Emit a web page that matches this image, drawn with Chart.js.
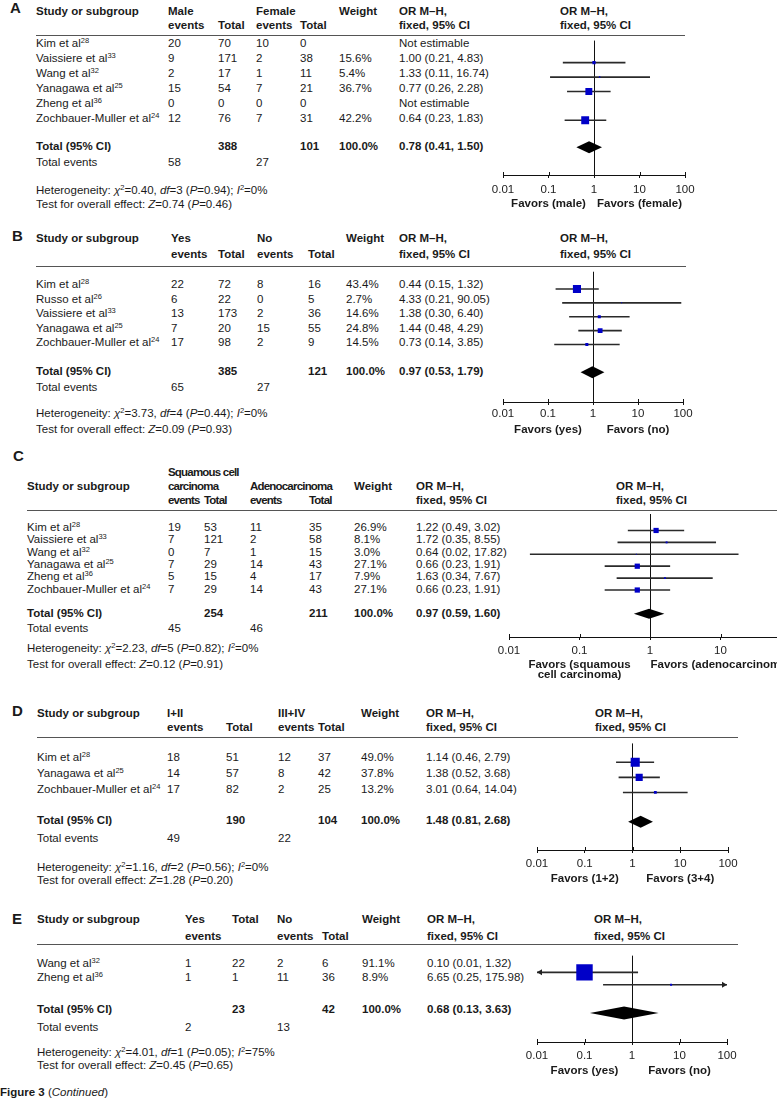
<!DOCTYPE html>
<html>
<head>
<meta charset="utf-8">
<script src="https://cdn.jsdelivr.net/npm/chart.js@4.4.1/dist/chart.umd.min.js"></script>
<style>
html, body { margin: 0; padding: 0; background: #fff; overflow: hidden; }
#page { position: relative; width: 777px; height: 1105px; overflow: hidden;
  font-family: "Liberation Sans", Arial, sans-serif; font-size: 11.5px; color: #1a1a1a; }
.t { position: absolute; white-space: nowrap; line-height: 14px; }
.b { font-weight: bold; }
.tight { letter-spacing: -0.8px; }
.letter { font-size: 15px; }
.rule { position: absolute; height: 0; border-top: 1px solid #555; }
sup { font-size: 7.5px; vertical-align: baseline; position: relative; top: -4px; line-height: 0; }
canvas { position: absolute; }
</style>
</head>
<body>
<div id="page"></div>
<script>
const xTicks = [0.01, 0.1, 1, 10, 100];
const xTickLabels = ['0.01', '0.1', '1', '10', '100'];

// A: male vs female
const studiesA = ['Kim et al', 'Vaissiere et al', 'Wang et al', 'Yanagawa et al', 'Zheng et al', 'Zochbauer-Muller et al'];
const refsA = [28, 33, 32, 25, 36, 24];
const events1A = [20, 9, 2, 15, 0, 12];
const totals1A = [70, 171, 17, 54, 0, 76];
const events2A = [10, 2, 1, 7, 0, 7];
const totals2A = [0, 38, 11, 21, 0, 31];
const weightsA = [null, 15.6, 5.4, 36.7, null, 42.2];
const orA = [null, 1.00, 1.33, 0.77, null, 0.64];
const loA = [null, 0.21, 0.11, 0.26, null, 0.23];
const hiA = [null, 4.83, 16.74, 2.28, null, 1.83];
const pooledA = [0.78, 0.41, 1.50];
const sumsA = [58, 388, 27, 101];
const hetA = ['0.40', '3', '0.94', '0'];
const effectA = ['0.74', '0.46'];
const favorsA = ['Favors (male)', 'Favors (female)'];
const head1A = ['Study or subgroup', 'Male', '', 'Female', '', 'Weight'];
const head2A = ['', 'events', 'Total', 'events', 'Total', ''];

// B: yes vs no
const studiesB = ['Kim et al', 'Russo et al', 'Vaissiere et al', 'Yanagawa et al', 'Zochbauer-Muller et al'];
const refsB = [28, 26, 33, 25, 24];
const events1B = [22, 6, 13, 7, 17];
const totals1B = [72, 22, 173, 20, 98];
const events2B = [8, 0, 2, 15, 2];
const totals2B = [16, 5, 36, 55, 9];
const weightsB = [43.4, 2.7, 14.6, 24.8, 14.5];
const orB = [0.44, 4.33, 1.38, 1.44, 0.73];
const loB = [0.15, 0.21, 0.30, 0.48, 0.14];
const hiB = [1.32, 90.05, 6.40, 4.29, 3.85];
const pooledB = [0.97, 0.53, 1.79];
const sumsB = [65, 385, 27, 121];
const hetB = ['3.73', '4', '0.44', '0'];
const effectB = ['0.09', '0.93'];
const favorsB = ['Favors (yes)', 'Favors (no)'];
const head1B = ['Study or subgroup', 'Yes', '', 'No', '', 'Weight'];
const head2B = ['', 'events', 'Total', 'events', 'Total', ''];

// C: squamous cell carcinoma vs adenocarcinoma
const studiesC = ['Kim et al', 'Vaissiere et al', 'Wang et al', 'Yanagawa et al', 'Zheng et al', 'Zochbauer-Muller et al'];
const refsC = [28, 33, 32, 25, 36, 24];
const events1C = [19, 7, 0, 7, 5, 7];
const totals1C = [53, 121, 7, 29, 15, 29];
const events2C = [11, 2, 1, 14, 4, 14];
const totals2C = [35, 58, 15, 43, 17, 43];
const weightsC = [26.9, 8.1, 3.0, 27.1, 7.9, 27.1];
const orC = [1.22, 1.72, 0.64, 0.66, 1.63, 0.66];
const loC = [0.49, 0.35, 0.02, 0.23, 0.34, 0.23];
const hiC = [3.02, 8.55, 17.82, 1.91, 7.67, 1.91];
const pooledC = [0.97, 0.59, 1.60];
const sumsC = [45, 254, 46, 211];
const hetC = ['2.23', '5', '0.82', '0'];
const effectC = ['0.12', '0.91'];
const favorsC = ['Favors (squamous<br>cell carcinoma)', 'Favors (adenocarcinoma)'];
const head0C = ['', 'Squamous cell', '', '', '', ''];
const head1C = ['Study or subgroup', 'carcinoma', '', 'Adenocarcinoma', '', 'Weight'];
const head2C = ['', 'events', 'Total', 'events', 'Total', ''];

// D: stage I+II vs III+IV
const studiesD = ['Kim et al', 'Yanagawa et al', 'Zochbauer-Muller et al'];
const refsD = [28, 25, 24];
const events1D = [18, 14, 17];
const totals1D = [51, 57, 82];
const events2D = [12, 8, 2];
const totals2D = [37, 42, 25];
const weightsD = [49.0, 37.8, 13.2];
const orD = [1.14, 1.38, 3.01];
const loD = [0.46, 0.52, 0.64];
const hiD = [2.79, 3.68, 14.04];
const pooledD = [1.48, 0.81, 2.68];
const sumsD = [49, 190, 22, 104];
const hetD = ['1.16', '2', '0.56', '0'];
const effectD = ['1.28', '0.20'];
const favorsD = ['Favors (1+2)', 'Favors (3+4)'];
const head1D = ['Study or subgroup', 'I+II', '', 'III+IV', '', 'Weight'];
const head2D = ['', 'events', 'Total', 'events', 'Total', ''];

// E: yes vs no
const studiesE = ['Wang et al', 'Zheng et al'];
const refsE = [32, 36];
const events1E = [1, 1];
const totals1E = [22, 1];
const events2E = [2, 11];
const totals2E = [6, 36];
const weightsE = [91.1, 8.9];
const orE = [0.10, 6.65];
const loE = [0.01, 0.25];
const hiE = [1.32, 175.98];
const pooledE = [0.68, 0.13, 3.63];
const sumsE = [2, 23, 13, 42];
const hetE = ['4.01', '1', '0.05', '75'];
const effectE = ['0.45', '0.65'];
const favorsE = ['Favors (yes)', 'Favors (no)'];
const head1E = ['Study or subgroup', 'Yes', 'Total', 'No', '', 'Weight'];
const head2E = ['', 'events', '', 'events', 'Total', ''];

const panels = [
  { letter: 'A', studies: studiesA, refs: refsA, ev1: events1A, tot1: totals1A, ev2: events2A, tot2: totals2A,
    weights: weightsA, or: orA, lo: loA, hi: hiA, pooled: pooledA, sums: sumsA, het: hetA, effect: effectA,
    favors: favorsA, heads: [head1A, head2A],
    lay: { letter: [10, 8], heads: [11, 25], ruleY: 35, ruleX: [36, 685], rowY: 43, step: 15, totalY: 146, eventsY: 162,
      hetY: 190, testY: 204, axisY: 175, favY: 203, tickPad: 5, cols: [36, 168, 218, 256, 300, 339, 399], headX: 560,
      axisL: 503, axisR: 685, dia: 6 } },
  { letter: 'B', studies: studiesB, refs: refsB, ev1: events1B, tot1: totals1B, ev2: events2B, tot2: totals2B,
    weights: weightsB, or: orB, lo: loB, hi: hiB, pooled: pooledB, sums: sumsB, het: hetB, effect: effectB,
    favors: favorsB, heads: [head1B, head2B],
    lay: { letter: [12, 236], heads: [238, 254], ruleY: 266, ruleX: [36, 686], rowY: 284, step: 14.5, totalY: 371, eventsY: 387,
      hetY: 413, testY: 429, axisY: 402, favY: 429, tickPad: 2, cols: [36, 171, 218, 257, 308, 346, 399], headX: 560,
      axisL: 503, axisR: 683, dia: 6 } },
  { letter: 'C', studies: studiesC, refs: refsC, ev1: events1C, tot1: totals1C, ev2: events2C, tot2: totals2C,
    weights: weightsC, or: orC, lo: loC, hi: hiC, pooled: pooledC, sums: sumsC, het: hetC, effect: effectC,
    favors: favorsC, heads: [head0C, head1C, head2C], tightHead: true,
    lay: { letter: [13, 456], heads: [472, 486, 500], ruleY: 510, ruleX: [27, 777], rowY: 527, step: 12.3, totalY: 613, eventsY: 628,
      hetY: 648, testY: 664, axisY: 637, favY: 664, tickPad: 4, cols: [27, 168, 204, 250, 309, 354, 416], headX: 616,
      axisL: 509, axisR: 791, dia: 5 } },
  { letter: 'D', studies: studiesD, refs: refsD, ev1: events1D, tot1: totals1D, ev2: events2D, tot2: totals2D,
    weights: weightsD, or: orD, lo: loD, hi: hiD, pooled: pooledD, sums: sumsD, het: hetD, effect: effectD,
    favors: favorsD, heads: [head1D, head2D],
    lay: { letter: [12, 711], heads: [713, 727], ruleY: 737, ruleX: [37, 738], rowY: 757, step: 16, totalY: 820, eventsY: 838,
      hetY: 867, testY: 880, axisY: 850, favY: 878, tickPad: 4, cols: [37, 167, 226, 278, 318, 361, 426], headX: 595,
      axisL: 537, axisR: 728, dia: 6 } },
  { letter: 'E', studies: studiesE, refs: refsE, ev1: events1E, tot1: totals1E, ev2: events2E, tot2: totals2E,
    weights: weightsE, or: orE, lo: loE, hi: hiE, pooled: pooledE, sums: sumsE, het: hetE, effect: effectE,
    favors: favorsE, heads: [head1E, head2E],
    lay: { letter: [12, 919], heads: [919, 936], ruleY: 944, ruleX: [37, 738], rowY: 963, step: 14, totalY: 1009, eventsY: 1027,
      hetY: 1052, testY: 1065, axisY: 1042, favY: 1070, tickPad: 4, cols: [37, 185, 232, 277, 322, 362, 427], headX: 594,
      axisL: 537, axisR: 727, dia: 6.5 } }
];

const page = document.getElementById('page');

function put(html, x, y, cls, center) {
  const d = document.createElement('div');
  d.className = 't' + (cls ? ' ' + cls : '');
  d.innerHTML = html;
  d.style.left = x + 'px';
  d.style.top = (y - 7) + 'px';
  if (center) {
    d.style.transform = 'translateX(-50%)';
    d.style.textAlign = 'center';
    d.style.lineHeight = '10px';
    d.style.top = (y - 5) + 'px';
  }
  page.appendChild(d);
  return d;
}

const ciText = (o, l, h) => `${o.toFixed(2)} (${l.toFixed(2)}, ${h.toFixed(2)})`;

function arrow(ctx, px, py, dir) {
  ctx.beginPath();
  ctx.moveTo(px, py);
  ctx.lineTo(px + dir * 5, py - 3);
  ctx.lineTo(px + dir * 5, py + 3);
  ctx.closePath();
  ctx.fill();
}

// diamond, arrow heads and upper half of the tick marks
const extras = {
  id: 'extras',
  afterDatasetsDraw(chart, args, opts) {
    const { ctx, chartArea: a } = chart;
    const x = chart.scales.x, y = chart.scales.y;
    ctx.save();
    ctx.strokeStyle = '#111';
    ctx.lineWidth = 1;
    xTicks.forEach(v => {
      const px = Math.round(x.getPixelForValue(v)) + 0.5;
      ctx.beginPath();
      ctx.moveTo(px, a.bottom - 3);
      ctx.lineTo(px, a.bottom);
      ctx.stroke();
    });
    ctx.fillStyle = '#222';
    opts.lo.forEach((l, i) => {
      if (l == null) return;
      const py = y.getPixelForValue(i);
      if (l <= x.min) arrow(ctx, a.left, py, 1);
      if (opts.hi[i] >= x.max) arrow(ctx, a.right, py, -1);
    });
    const [o, l, h] = opts.pooled;
    const py = y.getPixelForValue(opts.totalIdx);
    ctx.fillStyle = '#000';
    ctx.beginPath();
    ctx.moveTo(x.getPixelForValue(l), py);
    ctx.lineTo(x.getPixelForValue(o), py - opts.dia);
    ctx.lineTo(x.getPixelForValue(h), py);
    ctx.lineTo(x.getPixelForValue(o), py + opts.dia);
    ctx.closePath();
    ctx.fill();
    ctx.restore();
  }
};

function buildChart(P) {
  const L = P.lay, pad = 24;
  const w = L.axisR - L.axisL + 2 * pad, h = L.axisY - L.ruleY + 30;
  const cv = document.createElement('canvas');
  cv.width = w; cv.height = h;
  cv.style.left = (L.axisL - pad) + 'px';
  cv.style.top = L.ruleY + 'px';
  cv.style.width = w + 'px';
  cv.style.height = h + 'px';
  page.appendChild(cv);

  const squares = [], bars = [], radii = [];
  P.studies.forEach((s, i) => {
    if (P.or[i] == null) return;
    squares.push({ x: P.or[i], y: i });
    radii.push((0.5 + 0.175 * P.weights[i]) / (2 * Math.SQRT1_2));
    bars.push({ x: [P.lo[i], P.hi[i]], y: i });
  });
  const totalIdx = (L.totalY - L.rowY) / L.step;
  const yMin = (L.ruleY - L.rowY) / L.step;
  const yMax = (L.axisY - L.rowY) / L.step;

  const chart = new Chart(cv, {
    type: 'scatter',
    data: {
      datasets: [
        { type: 'scatter', data: squares, pointStyle: 'rect', pointRadius: radii,
          backgroundColor: '#0000c8', borderWidth: 0, order: 0 },
        { type: 'bar', indexAxis: 'y', data: bars, backgroundColor: '#2a2a2a',
          barThickness: 1, borderWidth: 0, order: 1, clip: 0 }
      ]
    },
    options: {
      responsive: false,
      animation: false,
      devicePixelRatio: 1,
      events: [],
      layout: { padding: { left: pad, right: pad, top: 0, bottom: 0 } },
      plugins: {
        legend: { display: false },
        tooltip: { enabled: false },
        extras: { lo: P.lo, hi: P.hi, pooled: P.pooled, totalIdx: totalIdx, dia: L.dia }
      },
      scales: {
        x: {
          type: 'logarithmic', min: 0.01, max: 100, position: 'bottom', offset: false,
          afterBuildTicks: s => { s.ticks = xTicks.map(v => ({ value: v })); },
          afterFit: s => { s.height = 30; },
          ticks: {
            callback: (v, i) => xTickLabels[i],
            font: { family: 'Liberation Sans', size: 11.5 },
            color: '#222', padding: L.tickPad, maxRotation: 0, autoSkip: false
          },
          grid: {
            offset: false,
            color: c => (c.tick && c.tick.value === 1) ? '#111' : 'rgba(0,0,0,0)',
            tickColor: '#111', tickLength: 3, lineWidth: 1
          },
          border: { display: true, color: '#111', width: 1 }
        },
        y: {
          type: 'linear', display: false, reverse: true, bounds: 'data', offset: false,
          grid: { offset: false },
          min: yMin, max: yMax
        }
      }
    },
    plugins: [extras]
  });
  return { chart: chart, left: L.axisL - pad };
}

function buildPanel(P) {
  const L = P.lay, c = L.cols;
  put(P.letter, L.letter[0], L.letter[1], 'b letter');

  P.heads.forEach((row, r) => row.forEach((txt, k) => {
    if (txt) put(txt, c[k], L.heads[r], (P.tightHead && k > 0 && k < 5) ? 'b tight' : 'b');
  }));
  const nh = L.heads.length;
  ['OR M–H,', 'fixed, 95% CI'].forEach((txt, k) => {
    put(txt, c[6], L.heads[nh - 2 + k], 'b');
    put(txt, L.headX, L.heads[nh - 2 + k], 'b');
  });

  const rule = document.createElement('div');
  rule.className = 'rule';
  rule.style.left = L.ruleX[0] + 'px';
  rule.style.width = (L.ruleX[1] - L.ruleX[0]) + 'px';
  rule.style.top = L.ruleY + 'px';
  page.appendChild(rule);

  P.studies.forEach((s, i) => {
    const y = L.rowY + i * L.step;
    put(`${s}<sup>${P.refs[i]}</sup>`, c[0], y);
    put(String(P.ev1[i]), c[1], y);
    put(String(P.tot1[i]), c[2], y);
    put(String(P.ev2[i]), c[3], y);
    put(String(P.tot2[i]), c[4], y);
    if (P.weights[i] != null) put(P.weights[i].toFixed(1) + '%', c[5], y);
    put(P.or[i] == null ? 'Not estimable' : ciText(P.or[i], P.lo[i], P.hi[i]), c[6], y);
  });

  put('Total (95% CI)', c[0], L.totalY, 'b');
  put(String(P.sums[1]), c[2], L.totalY, 'b');
  put(String(P.sums[3]), c[4], L.totalY, 'b');
  put('100.0%', c[5], L.totalY, 'b');
  put(ciText(P.pooled[0], P.pooled[1], P.pooled[2]), c[6], L.totalY, 'b');
  put('Total events', c[0], L.eventsY);
  put(String(P.sums[0]), c[1], L.eventsY);
  put(String(P.sums[2]), c[3], L.eventsY);

  const h = P.het;
  put(`Heterogeneity: <i>χ</i><sup>2</sup>=${h[0]}, <i>df</i>=${h[1]} (<i>P</i>=${h[2]}); <i>I</i><sup>2</sup>=${h[3]}%`, c[0], L.hetY);
  put(`Test for overall effect: <i>Z</i>=${P.effect[0]} (<i>P</i>=${P.effect[1]})`, c[0], L.testY);

  const fc = buildChart(P);
  const xs = fc.chart.scales.x;
  put(P.favors[0], fc.left + xs.getPixelForValue(0.1), L.favY, 'b', true);
  put(P.favors[1], fc.left + xs.getPixelForValue(10), L.favY, 'b', true);
}

panels.forEach(buildPanel);
put('<b>Figure 3</b> (<i>Continued</i>)', 0, 1092);
</script>
</body>
</html>
